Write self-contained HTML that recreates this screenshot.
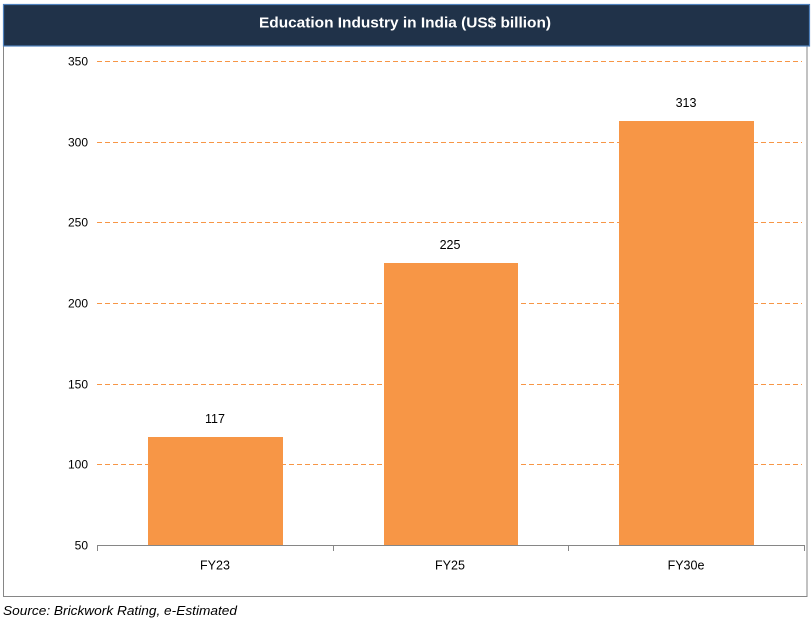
<!DOCTYPE html>
<html>
<head>
<meta charset="utf-8">
<style>
  html,body{margin:0;padding:0;background:#fff;}
  svg{display:block;}
  text{font-family:"Liberation Sans",sans-serif;}
</style>
</head>
<body>
<svg width="811" height="622" viewBox="0 0 811 622" xmlns="http://www.w3.org/2000/svg">
  <rect x="0" y="0" width="811" height="622" fill="#ffffff"/>
  <!-- outer frame -->
  <rect x="3.5" y="45.5" width="803.5" height="551" fill="#ffffff" stroke="#868686" stroke-width="1"/>
  <!-- header -->
  <rect x="3.5" y="4.5" width="806" height="41.5" fill="#203249" stroke="#4f81bd" stroke-width="1.2"/>
  <text x="405" y="27.5" fill="#ffffff" font-size="15" font-weight="bold" text-anchor="middle" textLength="292" lengthAdjust="spacingAndGlyphs">Education Industry in India (US$ billion)</text>

  <!-- gridlines -->
  <g stroke="#f79646" stroke-width="1" stroke-dasharray="5,3" shape-rendering="crispEdges">
    <line x1="97" y1="61.5" x2="802" y2="61.5"/>
    <line x1="97" y1="142.5" x2="802" y2="142.5"/>
    <line x1="97" y1="222.5" x2="802" y2="222.5"/>
    <line x1="97" y1="303.5" x2="802" y2="303.5"/>
    <line x1="97" y1="384.5" x2="802" y2="384.5"/>
    <line x1="97" y1="464.5" x2="802" y2="464.5"/>
  </g>

  <!-- y labels -->
  <g font-size="12" fill="#000" text-anchor="end">
    <text x="88" y="65.5">350</text>
    <text x="88" y="146.5">300</text>
    <text x="88" y="226.5">250</text>
    <text x="88" y="307.5">200</text>
    <text x="88" y="388.5">150</text>
    <text x="88" y="468.5">100</text>
    <text x="88" y="549.5">50</text>
  </g>

  <!-- bars -->
  <g fill="#f79646" shape-rendering="crispEdges">
    <rect x="148" y="437" width="135" height="108"/>
    <rect x="384" y="263" width="134" height="282"/>
    <rect x="619" y="121" width="135" height="424"/>
  </g>

  <!-- x axis -->
  <g stroke="#868686" stroke-width="1" shape-rendering="crispEdges">
    <line x1="97" y1="545.5" x2="804.5" y2="545.5"/>
    <line x1="97.5" y1="545" x2="97.5" y2="551"/>
    <line x1="333.5" y1="545" x2="333.5" y2="551"/>
    <line x1="568.5" y1="545" x2="568.5" y2="551"/>
    <line x1="804.5" y1="545" x2="804.5" y2="551"/>
  </g>

  <!-- data labels -->
  <g font-size="12.5" fill="#000" text-anchor="middle">
    <text x="215" y="423">117</text>
    <text x="450" y="249">225</text>
    <text x="686" y="107">313</text>
  </g>

  <!-- category labels -->
  <g font-size="12.5" fill="#000" text-anchor="middle">
    <text x="215" y="569.5">FY23</text>
    <text x="450" y="569.5">FY25</text>
    <text x="686" y="569.5">FY30e</text>
  </g>

  <!-- source -->
  <text x="3" y="615" font-size="13" font-style="italic" fill="#000" textLength="234" lengthAdjust="spacingAndGlyphs">Source: Brickwork Rating, e-Estimated</text>
</svg>
</body>
</html>
